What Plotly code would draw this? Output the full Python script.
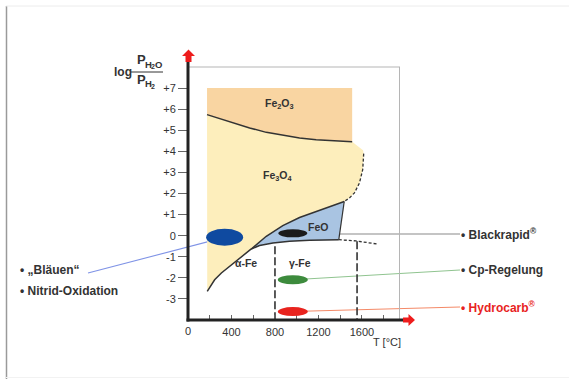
import plotly.graph_objects as go

# ---------------- data ----------------
XMIN, XMAX = 0, 1950
YMIN, YMAX = -4, 8

x_tickvals = [200, 400, 600, 800, 1000, 1200, 1400, 1600, 1800]
x_ticktext = ["", "400", "", "800", "", "1200", "", "1600", ""]
y_tickvals = [-3, -2, -1, 0, 1, 2, 3, 4, 5, 6, 7]
y_ticktext = ["-3", "-2", "-1", "0", "+1", "+2", "+3", "+4", "+5", "+6", "+7"]

# Fe2O3 / Fe3O4 boundary
hem_T = [175, 413, 567, 720, 872, 1026, 1179, 1331, 1510]
hem_y = [5.74, 5.35, 5.11, 4.90, 4.76, 4.63, 4.55, 4.51, 4.46]
hem_top = 7.0
# Fe3O4 / alpha-Fe boundary
magfe_T = [177, 245, 307, 383, 475, 582]
magfe_y = [-2.64, -2.09, -1.77, -1.46, -1.06, -0.63]
# Fe3O4 / FeO boundary
magwus_T = [582, 720, 872, 1026, 1179, 1331, 1437]
magwus_y = [-0.63, -0.03, 0.48, 0.86, 1.15, 1.42, 1.62]
# FeO / Fe boundary
wusfe_T = [582, 658, 781, 934, 1118, 1387]
wusfe_y = [-0.63, -0.47, -0.35, -0.27, -0.22, -0.19]
# FeO right edge
wusr_T = [1437, 1387]
wusr_y = [1.62, -0.19]
# Fe3O4 right (dotted) edge
magdash_T = [1610, 1616, 1607, 1577, 1531, 1485, 1437]
magdash_y = [4.05, 3.89, 3.13, 2.50, 2.03, 1.79, 1.62]
# dotted continuation of FeO/Fe boundary
fedot_T = [1387, 1546, 1745]
fedot_y = [-0.19, -0.25, -0.40]
# phase transition verticals
trans_T = [800, 1555]
trans_top = [-0.5, -0.27]

# region labels
region_text = ["Fe<sub>2</sub>O<sub>3</sub>", "Fe<sub>3</sub>O<sub>4</sub>", "FeO", "α-Fe", "γ-Fe"]
region_T = [843, 827, 1194, 536, 1026]
region_y = [6.26, 2.81, 0.39, -1.30, -1.30]

# process ellipses
proc_names = ["Bläuen", "Blackrapid", "Cp-Regelung", "Hydrocarb"]
proc_T = [337, 964, 964, 964]
proc_y = [-0.08, 0.11, -2.09, -3.60]
proc_w = [37, 29, 30, 30]
proc_h = [17, 8, 9, 9]
proc_color = ["#0f4aa0", "#1b1b1b", "#3d8b3d", "#e8231e"]
proc_line_color = ["#7f93e6", "#8a8a8a", "#90c490", "#f48a68"]

right_labels = ["• Blackrapid<sup>®</sup>", "• Cp-Regelung", "• Hydrocarb<sup>®</sup>"]
right_label_color = ["#333333", "#333333", "#e8231e"]
left_labels = ["• „Bläuen“", "• Nitrid-Oxidation"]

# ---------------- layout helpers (pixel -> paper) ----------------
W, H = 569, 379
PL, PT, PW, PH = 188, 67, 212, 253


def px(x):
    return (x - PL) / PW


def py(y):
    return (PT + PH - y) / PH


def dx(T):
    return (T - XMIN) / (XMAX - XMIN)


def dy(v):
    return (v - YMIN) / (YMAX - YMIN)


def path(pts):
    s = "M " + " L ".join(f"{px(a):.5f},{py(b):.5f}" for a, b in pts) + " Z"
    return s


FONT = "Liberation Sans, Arial, sans-serif"
DARK = "#333333"

fig = go.Figure()

# ---------------- filled regions ----------------
fig.add_trace(go.Scatter(
    x=[hem_T[0], hem_T[-1]] + hem_T[::-1], y=[hem_top, hem_top] + hem_y[::-1],
    fill="toself", fillcolor="#f9d5a2", mode="lines", line=dict(width=0),
    hoverinfo="skip", showlegend=False))
fig.add_trace(go.Scatter(
    x=hem_T + magdash_T + magwus_T[::-1][1:] + magfe_T[::-1][1:],
    y=hem_y + magdash_y + magwus_y[::-1][1:] + magfe_y[::-1][1:],
    fill="toself", fillcolor="#fdeebc", mode="lines", line=dict(width=0),
    hoverinfo="skip", showlegend=False))
fig.add_trace(go.Scatter(
    x=magwus_T + [wusr_T[1]] + wusfe_T[::-1][1:],
    y=magwus_y + [wusr_y[1]] + wusfe_y[::-1][1:],
    fill="toself", fillcolor="#a9c4e2", mode="lines", line=dict(width=0),
    hoverinfo="skip", showlegend=False))

# ---------------- boundary lines ----------------
def bline(xs, ys, width=1.5, dash="solid"):
    fig.add_trace(go.Scatter(x=xs, y=ys, mode="lines",
                             line=dict(color=DARK, width=width, dash=dash),
                             hoverinfo="skip", showlegend=False))


bline(hem_T, hem_y)
bline(magfe_T + magwus_T[1:], magfe_y + magwus_y[1:])
bline(wusfe_T, wusfe_y)
bline(wusr_T, wusr_y, width=1.2)
bline(magdash_T[1:], magdash_y[1:], width=1.3, dash="3px,2px")
bline(fedot_T, fedot_y, width=1.3, dash="3px,2px")
for T, top in zip(trans_T, trans_top):
    bline([T, T], [top, YMIN], width=1.6, dash="8px,3px")

# ---------------- region labels ----------------
for t, T, v in zip(region_text, region_T, region_y):
    fig.add_annotation(x=T, y=v, xref="x", yref="y", text=f"<b>{t}</b>",
                       showarrow=False, font=dict(family=FONT, size=10.5, color=DARK))

shapes = []

# ---------------- connector lines (below traces) ----------------
conn_targets = [(88, 273), (460, 234), (460, 270), (460, 307)]
for i in range(4):
    shapes.append(dict(type="line", xref="paper", yref="paper", layer="below",
                       x0=dx(proc_T[i]), y0=dy(proc_y[i]) if i != 1 else py(234),
                       x1=px(conn_targets[i][0]), y1=py(conn_targets[i][1]),
                       line=dict(color=proc_line_color[i], width=1.1)))

# ---------------- ellipses ----------------
for i in range(4):
    shapes.append(dict(type="circle", xref="x", yref="y", layer="above",
                       xsizemode="pixel", ysizemode="pixel",
                       xanchor=proc_T[i], yanchor=proc_y[i],
                       x0=-proc_w[i] / 2, x1=proc_w[i] / 2,
                       y0=-proc_h[i] / 2, y1=proc_h[i] / 2,
                       fillcolor=proc_color[i], line=dict(width=0)))

# ---------------- frame, axes, arrows ----------------
shapes += [
    dict(type="line", xref="paper", yref="paper", x0=px(188), x1=px(400), y0=py(67), y1=py(67),
         line=dict(color="#b5b5b5", width=1)),
    dict(type="line", xref="paper", yref="paper", x0=px(399.5), x1=px(399.5), y0=py(67), y1=py(320),
         line=dict(color="#b5b5b5", width=1)),
    dict(type="line", xref="paper", yref="paper", x0=px(188), x1=px(188), y0=py(321.5), y1=py(61),
         line=dict(color="#222222", width=3)),
    dict(type="line", xref="paper", yref="paper", x0=px(186.5), x1=px(404), y0=py(320), y1=py(320),
         line=dict(color="#222222", width=3)),
    dict(type="path", xref="paper", yref="paper",
         path=path([(185.5, 62), (185.5, 56), (182, 56), (188.5, 49.5), (195, 56), (191.5, 56), (191.5, 62)]),
         fillcolor="#ee1c1c", line=dict(width=0)),
    dict(type="path", xref="paper", yref="paper",
         path=path([(403, 317.5), (408.5, 317.5), (408.5, 314), (415, 320), (408.5, 326), (408.5, 322.5), (403, 322.5)]),
         fillcolor="#ee1c1c", line=dict(width=0)),
    # fraction bar of the y label
    dict(type="line", xref="paper", yref="paper", x0=px(131), x1=px(163), y0=py(72), y1=py(72),
         line=dict(color=DARK, width=1)),
    # page border
    dict(type="line", xref="paper", yref="paper", x0=px(6.5), x1=px(6.5), y0=py(6), y1=py(379),
         line=dict(color="#9a9a9a", width=1.5)),
    dict(type="line", xref="paper", yref="paper", x0=px(6), x1=px(569), y0=py(6), y1=py(6),
         line=dict(color="#ececec", width=1)),
    dict(type="line", xref="paper", yref="paper", x0=px(6), x1=px(569), y0=py(377.5), y1=py(377.5),
         line=dict(color="#f2f2f2", width=1)),
]

# ---------------- text annotations ----------------
ann = []
for t, c, yy in zip(right_labels, right_label_color, [234, 270, 307]):
    ann.append(dict(xref="paper", yref="paper", x=px(459), y=py(yy), xanchor="left", yanchor="middle",
                    text=f"<b>{t}</b>", showarrow=False, font=dict(family=FONT, size=12, color=c)))
for t, yy in zip(left_labels, [270, 291]):
    ann.append(dict(xref="paper", yref="paper", x=px(18), y=py(yy), xanchor="left", yanchor="middle",
                    text=f"<b>{t}</b>", showarrow=False, font=dict(family=FONT, size=12, color=DARK)))
ann.append(dict(xref="paper", yref="paper", x=px(387), y=py(342), xanchor="center", yanchor="middle",
                text="T [°C]", showarrow=False, font=dict(family=FONT, size=11, color=DARK)))
ann.append(dict(xref="paper", yref="paper", x=px(188), y=py(331), xanchor="center", yanchor="middle",
                text="0", showarrow=False, font=dict(family=FONT, size=11, color=DARK)))

# y-axis title: log (P_H2O / P_H2), built from pieces
ytitle_parts = [
    ("log", 112, 71.5, 12),
    ("P", 134.5, 59.5, 13), ("H", 142.5, 64, 9.5), ("2", 148.5, 66.5, 7), ("O", 152.5, 64, 9.5),
    ("P", 134.5, 79.5, 13), ("H", 142.5, 84, 9.5), ("2", 148.5, 86.5, 7),
]
for t, xx, yy, sz in ytitle_parts:
    ann.append(dict(xref="paper", yref="paper", x=px(xx), y=py(yy), xanchor="left", yanchor="middle",
                    text=f"<b>{t}</b>", showarrow=False, font=dict(family=FONT, size=sz, color=DARK)))

for a in ann:
    fig.add_annotation(**a)

fig.update_layout(
    width=W, height=H, autosize=False,
    margin=dict(l=PL, r=W - PL - PW, t=PT, b=H - PT - PH, pad=0),
    paper_bgcolor="white", plot_bgcolor="white",
    shapes=shapes, showlegend=False,
    xaxis=dict(range=[XMIN, XMAX], showgrid=False, zeroline=False, showline=False,
               tickmode="array", tickvals=x_tickvals, ticktext=x_ticktext,
               ticks="inside", ticklen=5, tickwidth=1, tickcolor="#666666",
               ticklabelstandoff=4,
               tickfont=dict(family=FONT, size=11, color=DARK), fixedrange=True),
    yaxis=dict(range=[YMIN, YMAX], showgrid=False, zeroline=False, showline=False,
               tickmode="array", tickvals=y_tickvals, ticktext=y_ticktext,
               ticks="outside", ticklen=9, tickwidth=1, tickcolor="#666666",
               tickfont=dict(family=FONT, size=11, color=DARK), fixedrange=True),
)

fig.write_html("out.html", config={"displayModeBar": False},
               post_script="document.body.style.margin='0px';")
